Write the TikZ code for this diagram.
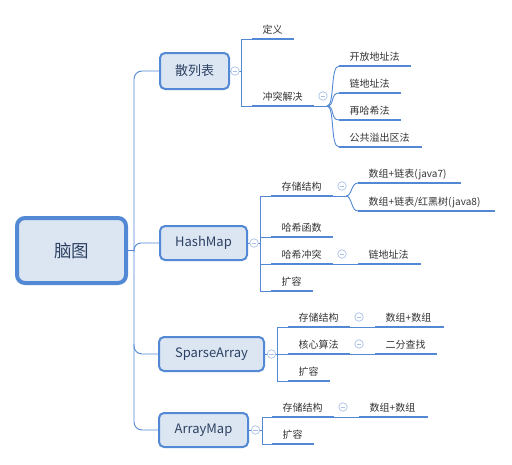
\documentclass[tikz,border=0pt]{standalone}
\usepackage{fontspec}
\setmainfont{Noto Sans CJK SC}
\definecolor{lblue}{HTML}{5288D4}
\definecolor{bfill}{HTML}{DCE6F2}
\definecolor{btext}{HTML}{2D4163}
\definecolor{ltext}{HTML}{333333}
\definecolor{cblue}{HTML}{A9C0E8}
\tikzset{
  conn/.style={draw=lblue, line width=0.9pt},
  uline/.style={draw=lblue, line width=2.6pt},
  topic/.style={draw=lblue, fill=bfill, line width=2pt, rounded corners=5pt,
    text=btext, font=\fontsize{13}{15}\selectfont, inner sep=0pt},
  rootbox/.style={draw=lblue, fill=bfill, line width=4pt, rounded corners=8pt,
    text=btext, font=\fontsize{17.5}{20}\selectfont, inner sep=0pt,
    minimum width=109pt, minimum height=65pt},
  leaf/.style={text=ltext, font=\fontsize{10}{12}\selectfont, inner sep=0pt, anchor=base west},
  collapse/.style={circle, draw=cblue, fill=white, line width=0.7pt, minimum size=8.5pt, inner sep=0pt,
    path picture={\draw[cblue, line width=0.7pt]
      ([xshift=-2.2pt]path picture bounding box.center) -- ([xshift=2.2pt]path picture bounding box.center);}}
}
\newcommand\mmleaf[5]{%
  \coordinate (#1l) at (#2,#4);
  \coordinate (#1r) at (#3,#4);
  \draw[uline] (#1l) -- (#1r);
  \node[leaf] (#1) at (#2+10.5,#4-6) {#5};
}
\begin{document}
\begin{tikzpicture}[x=1pt,y=-1pt]
\useasboundingbox (0,0) rectangle (512,464);
% topic boxes
\node[rootbox] (root) at (71.5,250.5) {脑图};
\node[topic, minimum width=69pt, minimum height=36pt] (san) at (194.5,71) {散列表};
\node[topic, minimum width=87pt, minimum height=34pt] (hm) at (203.5,243) {HashMap};
\node[topic, minimum width=105pt, minimum height=34pt] (sa) at (211.5,354) {SparseArray};
\node[topic, minimum width=89pt, minimum height=34pt] (am) at (203.5,430) {ArrayMap};
% trunk
\coordinate (tTop) at (134,71);
\coordinate (tBot) at (134,430);
\coordinate (tRoot) at (134,250.5);
\coordinate (jH) at (134,252);
\coordinate (jS) at (134,344);
\draw[conn, rounded corners=8pt] (san.west) -- (tTop) -- (tBot) -- (am.west);
\draw[conn] (root.east) -- (tRoot);
\draw[conn, rounded corners=7pt] (jH) |- (hm.west);
\draw[conn, rounded corners=8pt] (jS) |- (sa.west);
% leaves
\mmleaf{dy}{252}{294}{39}{定义}
\mmleaf{ct}{252}{314}{106}{冲突解决}
\mmleaf{kf}{339}{411}{66}{开放地址法}
\mmleaf{ld}{339}{401}{93}{链地址法}
\mmleaf{zh}{339}{401}{120}{再哈希法}
\mmleaf{gg}{339}{422}{147}{公共溢出区法}
\mmleaf{hc}{271}{333}{196}{存储结构}
\mmleaf{hs}{358}{461}{183}{数组+链表(java7)}
\mmleaf{he}{358}{495}{211}{数组+链表/红黑树(java8)}
\mmleaf{hf}{271}{333}{237}{哈希函数}
\mmleaf{hx}{271}{333}{264}{哈希冲突}
\mmleaf{hl}{358}{421}{264}{链地址法}
\mmleaf{hk}{271}{313}{291}{扩容}
\mmleaf{sc}{288}{350}{327}{存储结构}
\mmleaf{ss}{375}{444}{327}{数组+数组}
\mmleaf{sh}{288}{350}{354}{核心算法}
\mmleaf{se}{375}{437}{354}{二分查找}
\mmleaf{sk}{288}{330}{381}{扩容}
\mmleaf{ac}{272}{334}{417}{存储结构}
\mmleaf{as}{359}{428}{417}{数组+数组}
\mmleaf{ak}{272}{314}{444}{扩容}
% brackets
\coordinate (sanB) at (241,71);
\coordinate (hmB) at (260,243);
\coordinate (saB) at (277,354);
\coordinate (amB) at (262,430);
\draw[conn] (san.east) -- (sanB);
\draw[conn] (sanB) |- (dyl);
\draw[conn] (sanB) |- (ctl);
\draw[conn] (hm.east) -- (hmB);
\draw[conn] (hmB) |- (hcl);
\draw[conn] (hmB) |- (hfl);
\draw[conn] (hmB) |- (hxl);
\draw[conn] (hmB) |- (hkl);
\draw[conn] (sa.east) -- (saB);
\draw[conn] (saB) |- (scl);
\draw[conn] (saB) |- (shl);
\draw[conn] (saB) |- (skl);
\draw[conn] (am.east) -- (amB);
\draw[conn] (amB) |- (acl);
\draw[conn] (amB) |- (akl);
% fans
\coordinate (ctF) at (327,106);
\coordinate (hcF) at (346,196);
\draw[conn] (ctr) -- (ctF);
\foreach \t in {kfl,ldl,zhl,ggl}
  \draw[conn] (ctF) .. controls +(8,0) and +(-9,0) .. (\t);
\draw[conn] (hcr) -- (hcF);
\foreach \t in {hsl,hel}
  \draw[conn] (hcF) .. controls +(6,0) and +(-7,0) .. (\t);
\draw[conn] (hxr) -- (hll);
\draw[conn] (scr) -- (ssl);
\draw[conn] (shr) -- (sel);
\draw[conn] (acr) -- (asl);
% collapse markers
\node[collapse] (c1) at (235,71) {};
\node[collapse] (c2) at (323,96) {};
\node[collapse] (c3) at (254,243) {};
\node[collapse] (c4) at (342,186) {};
\node[collapse] (c5) at (342,254) {};
\node[collapse] (c6) at (271.5,354) {};
\node[collapse] (c7) at (359,317) {};
\node[collapse] (c8) at (359,344) {};
\node[collapse] (c9) at (255.5,430) {};
\node[collapse] (c10) at (343,407) {};
\end{tikzpicture}
\end{document}
